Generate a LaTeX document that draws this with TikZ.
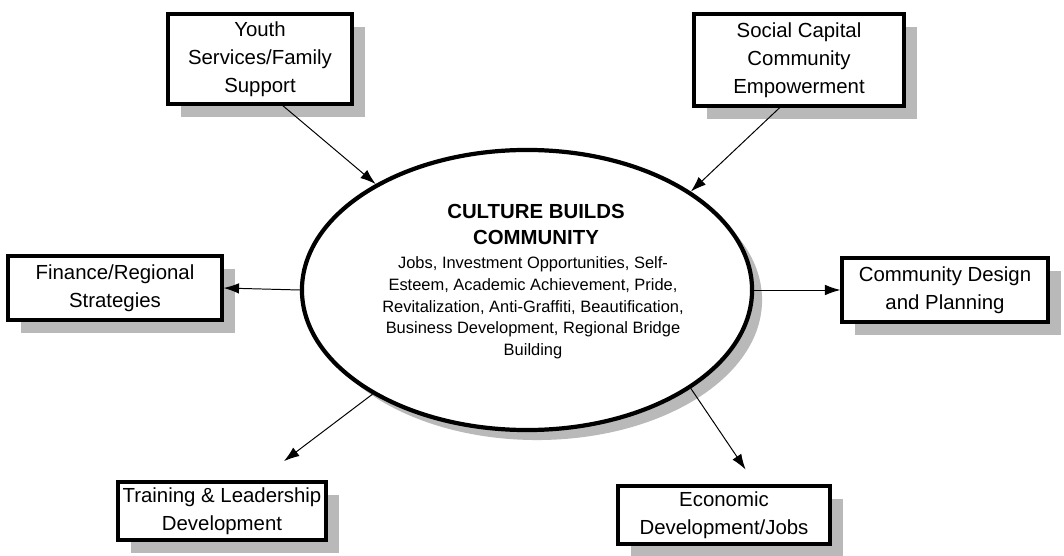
\documentclass[tikz,border=0pt]{standalone}
\usepackage{fontspec}
\setmainfont{Liberation Sans}
\usepackage{tikz}
\usetikzlibrary{arrows.meta,shapes,shadows,positioning}

\begin{document}
\begin{tikzpicture}[x=0.025cm,y=-0.025cm,
    >={Latex[length=11pt,width=7.5pt]},
    topic/.style={draw, line width=2.2pt, fill=white, align=center, inner sep=0pt,
      font=\fontsize{14.5}{19.8}\selectfont,
      drop shadow={shadow xshift=0.33cm, shadow yshift=-0.33cm, fill=gray!55, opacity=1}},
    hub/.style={draw, ellipse, line width=3pt, fill=white, inner sep=0pt,
      minimum width=11.25cm, minimum height=7cm,
      drop shadow={shadow xshift=0.25cm, shadow yshift=-0.25cm, fill=gray!55, opacity=1}},
    link/.style={->, line width=0.7pt}]
    \useasboundingbox (0,0) rectangle (1064,556);

    % centre of the picture
    \node[hub] (hub) at (527,290) {};
    \node[align=center, font=\bfseries\fontsize{14.5}{18.5}\selectfont] (title) at (536,224)
      {CULTURE BUILDS\\ COMMUNITY};
    \node[align=center, font=\fontsize{11.7}{15.4}\selectfont] (hubtext) at (533,308)
      {Jobs, Investment Opportunities, Self-\\
       Esteem, Academic Achievement, Pride,\\
       Revitalization, Anti-Graffiti, Beautification,\\
       Business Development, Regional Bridge\\
       Building};

    % the six boxes
    \node[topic, minimum width=4.6cm, minimum height=2.25cm] (youth) at (260,59)
      {Youth\\ Services/Family\\ Support};
    \node[topic, minimum width=5.25cm, minimum height=2.3cm] (social) at (799,60)
      {Social Capital\\ Community\\ Empowerment};
    \node[topic, minimum width=5.35cm, minimum height=1.6cm] (finance) at (115,288)
      {Finance/Regional\\ Strategies};
    \node[topic, minimum width=5.15cm, minimum height=1.6cm] (design) at (945,290)
      {Community Design\\ and Planning};
    \node[topic, minimum width=5.2cm, minimum height=1.45cm] (training) at (222,511)
      {Training \& Leadership\\ Development};
    \node[topic, minimum width=5.3cm, minimum height=1.45cm] (economic) at (724,515)
      {Economic\\ Development/Jobs};

    % arrows
    \draw[link] (youth.-64) -- (hub.145);
    \draw[link] (social.-112) -- (hub.31);
    \draw[link] (hub.west) -- (finance.east);
    \draw[link] (hub.east) -- (design.west);
    \draw[link, shorten >=0.8cm] (hub.214) -- (training.40);
    \draw[link, shorten >=0.45cm] (hub.-31) -- (economic.44);
  \end{tikzpicture}
\end{document}
